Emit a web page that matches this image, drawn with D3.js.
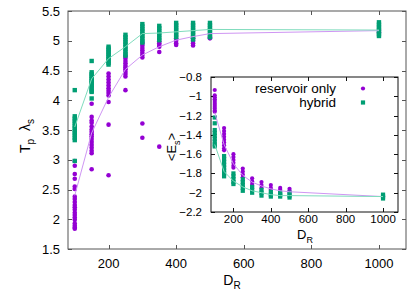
<!DOCTYPE html>
<html lang="en">
<head>
<meta charset="UTF-8">
<title>Tp vs DR</title>
<script src="https://cdnjs.cloudflare.com/ajax/libs/d3/7.8.5/d3.min.js"></script>
<style>
  body { margin: 0; background: #fff; }
  svg text { font-family: "Liberation Sans", Arial, sans-serif; fill: #000; }
</style>
</head>
<body>
<svg id="chart" width="415" height="291"></svg>
<script>
// reservoir sizes
const dR = [100, 150, 200, 250, 300, 350, 400, 450, 500, 1000];

// main panel: Tp * lambda_s, one list of runs per reservoir size
const resMain = [
  [2.98, 2.90, 2.76, 2.68, 2.55, 2.51, 2.38, 2.34, 2.29, 2.24, 2.20, 2.16, 2.11, 2.07, 2.03, 1.99, 1.93, 1.89, 1.86, 1.84],
  [3.94, 3.72, 3.66, 3.62, 3.56, 3.51, 3.47, 3.43, 3.39, 3.35, 3.30, 3.25, 3.20, 3.15, 3.11, 2.84],
  [4.45, 4.40, 4.35, 4.30, 4.25, 4.20, 4.16, 4.12, 4.08, 3.97, 3.59, 2.74],
  [4.74, 4.70, 4.66, 4.62, 4.58, 4.55, 4.52, 4.48, 4.44, 4.40, 4.17],
  [4.96, 4.92, 4.88, 4.84, 4.80, 4.76, 4.72, 3.61, 3.37],
  [4.99, 4.96, 4.93, 4.90, 4.81, 3.22],
  [5.04, 5.00, 4.96, 4.93],
  [5.04, 5.00, 4.96, 4.92],
  [5.06, 5.04],
  [5.18, 5.14]
];
const hybMain = [
  [4.17, 3.73, 3.69, 3.65, 3.61, 3.57, 3.53, 3.49, 3.45, 3.41, 3.37, 3.33, 2.98],
  [4.66, 4.47, 4.44, 4.41, 4.38, 4.35, 4.32, 4.29, 4.26, 4.23, 4.20, 4.16, 4.14, 4.03],
  [4.90, 4.87, 4.84, 4.81, 4.78, 4.75, 4.72, 4.69, 4.66, 4.63, 4.60],
  [5.10, 5.06, 5.02, 4.98, 4.94, 4.90, 4.86, 4.82, 4.78, 4.75],
  [5.28, 5.24, 5.20, 5.16, 5.12, 5.08, 5.04, 5.00, 4.97],
  [5.25, 5.21, 5.17, 5.13, 5.09, 5.05, 5.01],
  [5.30, 5.26, 5.22, 5.18, 5.14, 5.10, 5.06],
  [5.30, 5.26, 5.22, 5.18, 5.14, 5.10, 5.06, 5.02],
  [5.30, 5.26, 5.22, 5.18, 5.14, 5.10, 5.06],
  [5.31, 5.27, 5.23, 5.19, 5.15, 5.11, 5.08]
];
const resMainLine = [2.40, 3.45, 4.05, 4.52, 4.76, 4.90, 5.01, 5.07, 5.12, 5.17];
const hybMainLine = [3.55, 4.36, 4.70, 4.90, 5.12, 5.13, 5.15, 5.17, 5.19, 5.18];

// inset: <E_s>
const resInset = [
  [-0.935, -0.99, -1.01, -1.03, -1.05, -1.07, -1.09, -1.11, -1.13, -1.15, -1.16],
  [-1.33, -1.36, -1.39, -1.42, -1.45, -1.48, -1.51, -1.54, -1.56],
  [-1.60, -1.63, -1.66, -1.69, -1.72, -1.74],
  [-1.75, -1.78, -1.81, -1.84],
  [-1.85, -1.88, -1.91, -1.93],
  [-1.89, -1.92, -1.95],
  [-1.92, -1.95, -1.97],
  [-1.95, -1.97, -1.99],
  [-1.96, -1.98, -2.00],
  [-2.04]
];
const hybInset = [
  [-1.22, -1.28, -1.35, -1.38, -1.41, -1.44, -1.47, -1.50, -1.52],
  [-1.62, -1.65, -1.68, -1.71, -1.74, -1.77, -1.80, -1.83],
  [-1.80, -1.83, -1.86, -1.89, -1.91],
  [-1.86, -1.89, -1.92, -1.95, -1.98],
  [-1.94, -1.97, -2.00],
  [-1.97, -2.00, -2.03],
  [-1.99, -2.02, -2.04],
  [-2.00, -2.02, -2.04],
  [-2.00, -2.03, -2.05],
  [-2.02, -2.04, -2.06]
];
const resInsetLine = [-1.17, -1.50, -1.70, -1.82, -1.89, -1.93, -1.96, -1.98, -1.99, -2.04];
const hybInsetLine = [-1.50, -1.78, -1.88, -1.94, -1.98, -2.00, -2.02, -2.03, -2.03, -2.04];

const xTicks = [200, 400, 600, 800, 1000];
const mainYTicks = [1.5, 2, 2.5, 3, 3.5, 4, 4.5, 5, 5.5];
const insetYTicks = [-2.2, -2, -1.8, -1.6, -1.4, -1.2, -1, -0.8];
const legendLabels = ["reservoir only", "hybrid"];

const purple = "#9400d3", green = "#009e73";
const purpleLine = "#cf96f3", greenLine = "#7fdcbd";

var svg = d3.select("#chart");

function flatten(groups) {
  var out = [];
  groups.forEach(function(g, i) { g.forEach(function(v) { out.push([dR[i], v]); }); });
  return out;
}

// draw one panel: frame, ticks, points, lines
function panel(g, x, y, yTicks, opt) {
  var x0 = x.range()[0], x1 = x.range()[1], y0 = y.range()[0], y1 = y.range()[1];
  g.append("rect")
    .attr("x", x0).attr("y", y1).attr("width", x1 - x0).attr("height", y0 - y1)
    .attr("fill", "#fff").attr("stroke", opt.border).attr("stroke-width", 1);

  var tl = 4;
  xTicks.forEach(function(t) {
    var px = Math.round(x(t)) + 0.5;
    g.append("line").attr("x1", px).attr("x2", px).attr("y1", y0).attr("y2", y0 - tl).attr("stroke", opt.border);
    g.append("line").attr("x1", px).attr("x2", px).attr("y1", y1).attr("y2", y1 + tl).attr("stroke", opt.border);
    g.append("text").attr("x", x(t)).attr("y", opt.xLabY)
      .attr("text-anchor", "middle").style("font-size", opt.fs + "px").text(t);
  });
  yTicks.forEach(function(t) {
    var py = Math.round(y(t)) + 0.5;
    g.append("line").attr("x1", x0).attr("x2", x0 + tl).attr("y1", py).attr("y2", py).attr("stroke", opt.border);
    g.append("line").attr("x1", x1).attr("x2", x1 - tl).attr("y1", py).attr("y2", py).attr("stroke", opt.border);
    g.append("text").attr("x", x0 - opt.yLabGap).attr("y", y(t)).attr("dy", "0.35em")
      .attr("text-anchor", "end").style("font-size", opt.fs + "px").text(d3.format("")(t));
  });

  var sq = opt.sq;
  g.append("g").selectAll("circle").data(flatten(opt.res)).enter().append("circle")
    .attr("cx", function(d) { return x(d[0]); })
    .attr("cy", function(d) { return y(d[1]); })
    .attr("r", opt.r).attr("fill", purple);
  g.append("g").selectAll("rect").data(flatten(opt.hyb)).enter().append("rect")
    .attr("x", function(d) { return x(d[0]) - sq / 2; })
    .attr("y", function(d) { return y(d[1]) - sq / 2; })
    .attr("width", sq).attr("height", sq).attr("fill", green);

  var line = d3.line().x(function(d, i) { return x(dR[i]); }).y(function(d) { return y(d); });
  g.append("path").datum(opt.resLine).attr("d", line)
    .attr("fill", "none").attr("stroke", purpleLine).attr("stroke-width", 1);
  g.append("path").datum(opt.hybLine).attr("d", line)
    .attr("fill", "none").attr("stroke", greenLine).attr("stroke-width", 1);
}

// main panel
var xMain = d3.scaleLinear().domain([80, 1080]).range([68, 406]);
var yMain = d3.scaleLinear().domain([1.5, 5.5]).range([249, 11]);
panel(svg.append("g"), xMain, yMain, mainYTicks, {
  border: "#555", fs: 13, xLabY: 268, yLabGap: 8, r: 2.3, sq: 4.4,
  res: resMain, hyb: hybMain, resLine: resMainLine, hybLine: hybMainLine
});

// axis titles for main panel
var xt = svg.append("text").attr("x", 232).attr("y", 285).attr("text-anchor", "middle").style("font-size", "14px");
xt.append("tspan").text("D");
xt.append("tspan").attr("dy", 4).style("font-size", "10px").text("R");

var yt = svg.append("text").attr("transform", "translate(30,136) rotate(-90)")
  .attr("text-anchor", "middle").style("font-size", "14px");
yt.append("tspan").text("T");
yt.append("tspan").attr("dy", 4).style("font-size", "10px").text("p");
yt.append("tspan").attr("dy", -4).text("\u00a0\u00a0\u03bb");
yt.append("tspan").attr("dy", 4).style("font-size", "10px").text("s");

// inset panel
var xIn = d3.scaleLinear().domain([80, 1080]).range([211, 398]);
var yIn = d3.scaleLinear().domain([-2.2, -0.8]).range([212, 77]);
panel(svg.append("g"), xIn, yIn, insetYTicks, {
  border: "#111", fs: 11.5, xLabY: 223, yLabGap: 9, r: 2.1, sq: 4.2,
  res: resInset, hyb: hybInset, resLine: resInsetLine, hybLine: hybInsetLine
});

var ixt = svg.append("text").attr("x", 305).attr("y", 239).attr("text-anchor", "middle").style("font-size", "13px");
ixt.append("tspan").text("D");
ixt.append("tspan").attr("dy", 4).style("font-size", "9px").text("R");

var iyt = svg.append("text").attr("transform", "translate(176,147) rotate(-90)")
  .attr("text-anchor", "middle").style("font-size", "13px");
iyt.append("tspan").text("<E");
iyt.append("tspan").attr("dy", 4).style("font-size", "9px").text("s");
iyt.append("tspan").attr("dy", -4).text(">");

// legend
var leg = svg.append("g");
legendLabels.forEach(function(lab, i) {
  var ly = 88.5 + i * 14;
  leg.append("text").attr("x", 336).attr("y", ly).attr("dy", "0.35em")
    .attr("text-anchor", "end").style("font-size", "13.5px").text(lab);
  if (i === 0) {
    leg.append("circle").attr("cx", 363).attr("cy", ly).attr("r", 2.1).attr("fill", purple);
  } else {
    leg.append("rect").attr("x", 363 - 2.1).attr("y", ly - 2.1).attr("width", 4.2).attr("height", 4.2).attr("fill", green);
  }
});
</script>
</body>
</html>
